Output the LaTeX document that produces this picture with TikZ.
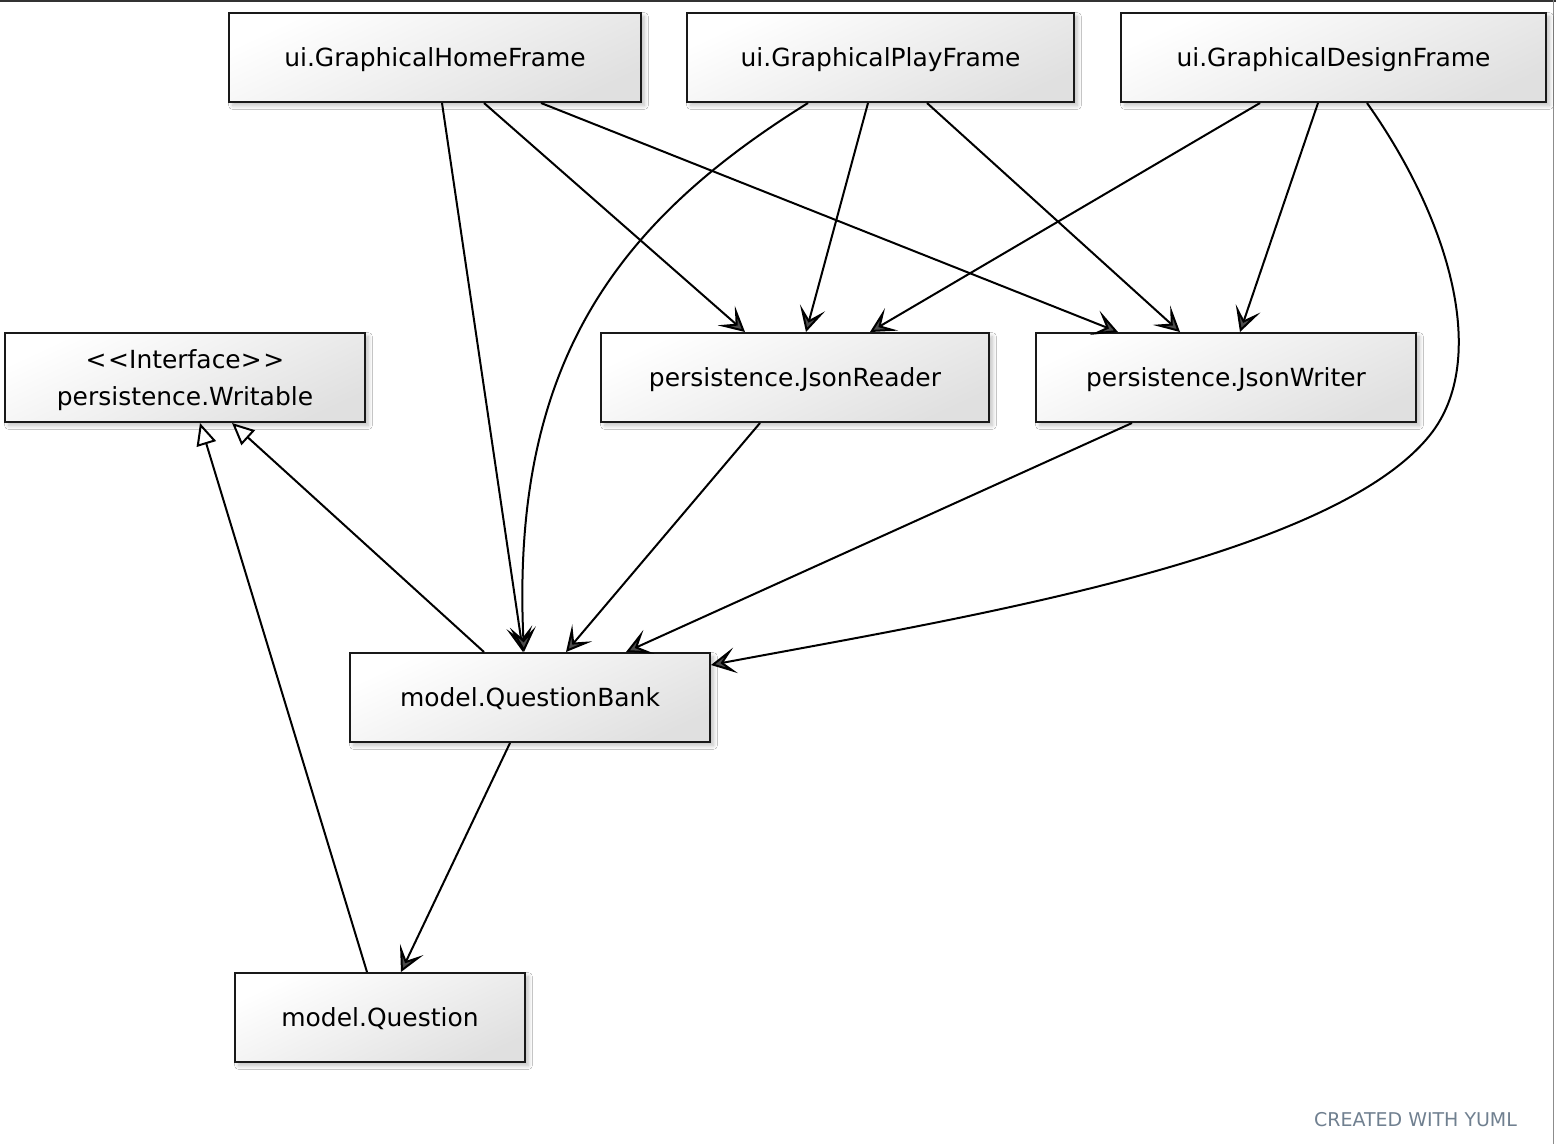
\documentclass[tikz,border=0pt]{standalone}
\usepackage{fontspec}
\setmainfont{DejaVu Sans}
\usetikzlibrary{positioning,calc,arrows.meta,shadows.blur}
\definecolor{yumlgray}{RGB}{112,128,144}

\begin{document}
\begin{tikzpicture}[x=0.02cm, y=-0.02cm,
						classbox/.style={rectangle, draw=black!90, line width=0.04cm, minimum height=1.78cm,
							top color=white, bottom color=black!12, shading angle=25,
							blur shadow={shadow xshift=0.07cm, shadow yshift=-0.07cm, shadow blur steps=8, shadow opacity=25},
							font=\fontsize{14.2}{21}\selectfont, align=center, inner sep=0pt,
							text height=0.36cm, text depth=0cm},
						uses/.style={-{Stealth[length=0.5cm, width=0.52cm, inset=0.25cm, fill=black!70]}},
						realizes/.style={-{Triangle[open, length=0.44cm, width=0.4cm, fill=white]}},
						stamp/.style={text=yumlgray, font=\fontsize{10.8}{13}\selectfont}
					]
					\useasboundingbox (0,0) rectangle (1556,1144);
					\fill[white] (0,0) rectangle (1556,1144);
					\coordinate (topl) at (0,1);
					\coordinate (topr) at (1556,1);
					\coordinate (rtop) at (1553,0);
					\coordinate (rbot) at (1553,1144);
					\draw[black!80, line width=0.04cm] (topl) -- (topr);
					\draw[black!45, line width=0.02cm] (rtop) -- (rbot);
					\node[classbox, minimum width=8.24cm] (home) at (435,57.5) {ui.GraphicalHomeFrame};
					\node[classbox, minimum width=7.74cm] (play) at (880.5,57.5) {ui.GraphicalPlayFrame};
					\node[classbox, minimum width=8.5cm] (design) at (1333.5,57.5) {ui.GraphicalDesignFrame};
					\node[classbox, minimum width=7.2cm, text height=1.1cm] (writable) at (185,377.5) {<\kern1pt<Interface>\kern1pt>\\persistence.Writable};
					\node[classbox, minimum width=7.76cm] (reader) at (795,377.5) {persistence.JsonReader};
					\node[classbox, minimum width=7.6cm] (writer) at (1226,377.5) {persistence.JsonWriter};
					\node[classbox, minimum width=7.2cm] (bank) at (530,697.5) {model.QuestionBank};
					\node[classbox, minimum width=5.8cm] (question) at (380,1017.5) {model.Question};
					\node[stamp] (yuml) at (1415.5,1120) {CREATED WITH YUML};
					\begin{scope}[line width=0.04cm, uses]
					\draw ($(home.south)+(7,0)$) -- ($(bank.north)+(-7,0)$);
					\draw ($(home.south)+(49,0)$) -- ($(reader.north)+(-50,0)$);
					\draw ($(home.south)+(106,0)$) -- ($(writer.north)+(-108,0)$);
					\draw ($(play.south)+(-72.5,0)$) .. controls (620,220) and (510,360) .. ($(bank.north)+(-6,0)$);
					\draw ($(play.south)+(-12.5,0)$) -- ($(reader.north)+(11,0)$);
					\draw ($(play.south)+(46.5,0)$) -- ($(writer.north)+(-46,0)$);
					\draw ($(design.south)+(-73.5,0)$) -- ($(reader.north)+(75,0)$);
					\draw ($(design.south)+(-15.5,0)$) -- ($(writer.north)+(14,0)$);
					\draw ($(design.south)+(33.5,0)$) .. controls (1450,220) and (1490,360) .. (1430,435)
						.. controls (1330,560) and (950,620) .. ($(bank.east)+(0,-32.5)$);
					\draw ($(reader.south)+(-35,0)$) -- ($(bank.north)+(36,0)$);
					\draw ($(writer.south)+(-94,0)$) -- ($(bank.north)+(96,0)$);
					\draw ($(bank.south)+(-20,0)$) -- ($(question.north)+(21,0)$);
					\end{scope}
					\begin{scope}[line width=0.04cm, realizes]
					\draw ($(bank.north)+(-46,0)$) -- ($(writable.south)+(47,0)$);
					\draw ($(question.north)+(-13,0)$) -- ($(writable.south)+(15,0)$);
					\end{scope}
					\end{tikzpicture}
\end{document}
